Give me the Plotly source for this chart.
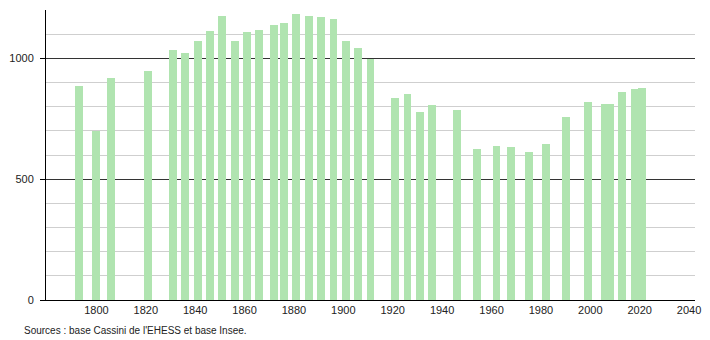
import plotly.graph_objects as go

years = [1793, 1800, 1806, 1821, 1831, 1836, 1841, 1846, 1851, 1856,
         1861, 1866, 1872, 1876, 1881, 1886, 1891, 1896, 1901, 1906,
         1911, 1921, 1926, 1931, 1936, 1946, 1954, 1962, 1968, 1975,
         1982, 1990, 1999, 2006, 2008, 2013, 2018, 2021]
population = [886, 701, 919, 946, 1035, 1021, 1071, 1112, 1175, 1071,
              1111, 1119, 1136, 1146, 1183, 1175, 1169, 1164, 1073, 1044,
              996, 837, 853, 778, 807, 787, 625, 637, 635, 612,
              646, 758, 819, 811, 811, 861, 875, 879]
x_ticks = list(range(1800, 2041, 20))
y_ticks = [0, 500, 1000]
source_text = "Sources : base Cassini de l'EHESS et base Insee."

fig = go.Figure()
fig.add_trace(go.Bar(
    x=years, y=population, width=3.2,
    marker=dict(color="#b0e4b0", line=dict(width=0)),
    hoverinfo="x+y",
))

W, H = 710, 340
ml, mr, mt, mb = 44, 9, 10, 40
fig.update_layout(
    width=W, height=H,
    margin=dict(l=ml, r=mr, t=mt, b=mb, pad=0),
    paper_bgcolor="white", plot_bgcolor="white",
    showlegend=False,
    font=dict(family="Liberation Sans, Arial, sans-serif", size=11, color="#222"),
    bargap=0,
)
fig.update_xaxes(
    range=[1779.6, 2042.4],
    tickvals=x_ticks, ticktext=[str(v) for v in x_ticks],
    showgrid=False, zeroline=False,
    showline=True, linecolor="black", linewidth=1,
    ticks="", ticklen=0,
)
fig.update_yaxes(
    range=[0, 1200],
    tickvals=y_ticks,
    showgrid=True, gridcolor="#333333", gridwidth=1,
    minor=dict(dtick=100, showgrid=True, gridcolor="#cfcfcf", gridwidth=1, ticks=""),
    zeroline=False,
    showline=True, linecolor="black", linewidth=1,
    ticks="outside", ticklen=5, tickcolor="black",
    ticklabelstandoff=4,
)
fig.add_annotation(
    text=source_text, xref="paper", yref="paper",
    x=(20 - ml) / (W - ml - mr), y=(H - mb - 330) / (H - mt - mb),
    xanchor="left", yanchor="middle", showarrow=False,
    font=dict(size=10, color="#222"),
)
fig.write_html("out.html")
